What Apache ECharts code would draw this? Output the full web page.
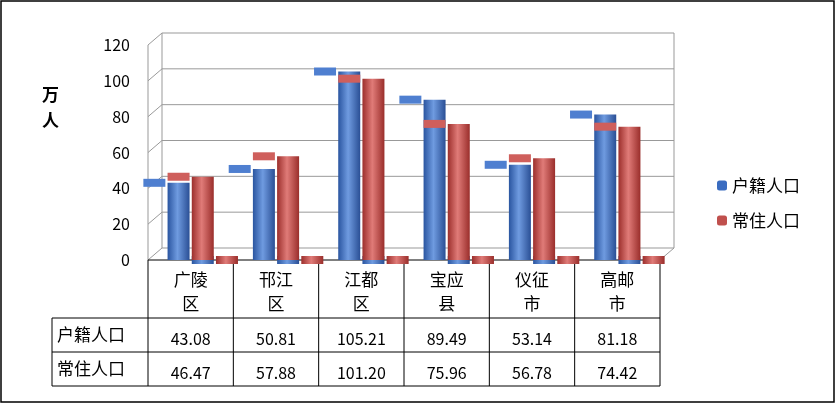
<!DOCTYPE html><html><head><meta charset="utf-8">
<script src="https://cdn.jsdelivr.net/npm/echarts@6/dist/echarts.min.js"></script>
<style>body{margin:0}#c{width:836px;height:404px}</style></head><body><div id="c"></div>
<script>
const categories=['广陵\n区','邗江\n区','江都\n区','宝应\n县','仪征\n市','高邮\n市'];
const huji=[43.08,50.81,105.21,89.49,53.14,81.18];
const changzhu=[46.47,57.88,101.20,75.96,56.78,74.42];
const seriesNames=['户籍人口','常住人口'];
const yTicks=[0,20,40,60,80,100,120];
const L=148,R=660,T=45,B=260,step=(R-L)/6;
const font='"Noto Sans CJK SC","Liberation Sans",sans-serif';
const grad=(a,b,c)=>new echarts.graphic.LinearGradient(0,0,1,0,[{offset:0,color:a},{offset:0.45,color:b},{offset:1,color:c}]);
const blue=grad('#2a55a0','#6f9be0','#2a4f95'), red=grad('#9c2f2c','#e07b78','#9a2e2b');
const g=[];
g.push({type:'rect',shape:{x:1,y:1,width:833,height:401},style:{fill:'none',stroke:'#000',lineWidth:1.5},silent:true});
yTicks.forEach(v=>{const y=B-(B-T)*v/120;g.push({type:'polyline',shape:{points:[[L,y],[L+14,y-12],[R+14,y-12]]},style:{stroke:'#999',fill:'none'},silent:true,z:0});});
g.push({type:'line',shape:{x1:L+14,y1:T-12,x2:L+14,y2:B-12},style:{stroke:'#999'},z:0});
g.push({type:'line',shape:{x1:R+14,y1:T-12,x2:R+14,y2:B-12},style:{stroke:'#999'},z:0});
g.push({type:'line',shape:{x1:L,y1:T,x2:L,y2:B},style:{stroke:'#999'},z:0});
g.push({type:'line',shape:{x1:R,y1:B,x2:R+14,y2:B-12},style:{stroke:'#999'},z:0});
const rows=[318,352,386];
g.push({type:'line',shape:{x1:L,y1:B,x2:R,y2:B},style:{stroke:'#000'}});
rows.forEach(y=>g.push({type:'line',shape:{x1:52,y1:y,x2:R,y2:y},style:{stroke:'#000'}}));
g.push({type:'line',shape:{x1:52,y1:318,x2:52,y2:386},style:{stroke:'#000'}});
for(let i=0;i<=6;i++)g.push({type:'line',shape:{x1:L+i*step,y1:B,x2:L+i*step,y2:386},style:{stroke:'#000'}});
seriesNames.forEach((n,i)=>g.push({type:'text',x:57,y:335+i*34,style:{text:n,fontSize:17,fontFamily:font,fill:'#000',verticalAlign:'middle'}}));
g.push({type:'text',x:42,y:82,style:{text:'万\n人',fontSize:17,fontWeight:'bold',fontFamily:font,lineHeight:26,fill:'#000'}});
const lab=(arr)=>arr.map(v=>v.toFixed(2));
const opt={
 animation:false,
 grid:{left:L,right:836-R,top:T,bottom:404-B},
 legend:{orient:'vertical',left:712,top:172,itemGap:18,itemWidth:10,itemHeight:10,textStyle:{fontSize:17,fontFamily:font,color:'#000'},data:[{name:seriesNames[0],itemStyle:{color:'#3a6cc0'}},{name:seriesNames[1],itemStyle:{color:'#c0504d'}}]},
 xAxis:[
  {type:'category',data:categories,axisLine:{show:false},axisTick:{show:false},axisLabel:{fontSize:17,fontFamily:font,color:'#000',lineHeight:24,margin:8}},
  {type:'category',data:lab(huji),position:'bottom',offset:63,axisLine:{show:false},axisTick:{show:false},axisLabel:{fontSize:16,fontFamily:font,color:'#000'}},
  {type:'category',data:lab(changzhu),position:'bottom',offset:97,axisLine:{show:false},axisTick:{show:false},axisLabel:{fontSize:16,fontFamily:font,color:'#000'}}
 ],
 yAxis:{type:'value',min:0,max:120,interval:20,splitLine:{show:false},axisLine:{show:false},axisLabel:{fontSize:16,fontFamily:font,color:'#000',margin:18}},
 series:[
  {name:seriesNames[0],type:'bar',data:huji,barWidth:22,barGap:'10%',itemStyle:{color:blue},z:2},
  {name:seriesNames[1],type:'bar',data:changzhu,barWidth:22,barGap:'10%',itemStyle:{color:red},z:2},
  {name:seriesNames[0],type:'pictorialBar',data:huji,symbol:'ellipse',symbolSize:[22,8],symbolPosition:'end',symbolOffset:[0,'-50%'],barWidth:22,barGap:'10%',itemStyle:{color:'#4f7fd0'},z:3},
  {name:seriesNames[1],type:'pictorialBar',data:changzhu,symbol:'ellipse',symbolSize:[22,8],symbolPosition:'end',symbolOffset:[0,'-50%'],barWidth:22,barGap:'10%',itemStyle:{color:'#cf5f5c'},z:3},
  {name:seriesNames[0],type:'pictorialBar',data:huji,symbol:'ellipse',symbolSize:[22,8],symbolPosition:'start',symbolOffset:[0,'50%'],barWidth:22,barGap:'10%',itemStyle:{color:blue},z:1},
  {name:seriesNames[1],type:'pictorialBar',data:changzhu,symbol:'ellipse',symbolSize:[22,8],symbolPosition:'start',symbolOffset:[0,'50%'],barWidth:22,barGap:'10%',itemStyle:{color:red},z:1}
 ],
 graphic:g
};
echarts.init(document.getElementById('c')).setOption(opt);
</script></body></html>
